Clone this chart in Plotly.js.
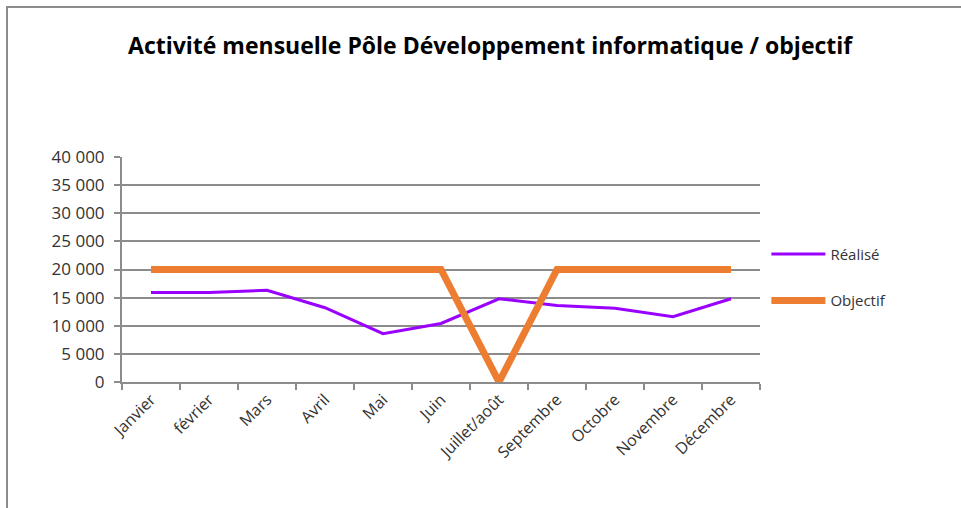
<!DOCTYPE html>
<html>
<head>
<meta charset="utf-8">
<script src="https://cdn.plot.ly/plotly-3.0.1.min.js"></script>
<style>
html,body{margin:0;padding:0;background:#fff;}
#frame{position:absolute;left:6px;top:6px;width:960px;height:508px;border-left:2px solid #8c8c8c;border-top:2px solid #8c8c8c;}
#chart{position:absolute;left:0;top:0;width:961px;height:508px;}
</style>
</head>
<body>
<div id="frame"></div>
<div id="chart"></div>
<script>
const months = ["Janvier","février","Mars","Avril","Mai","Juin","Juillet/août","Septembre","Octobre","Novembre","Décembre"];
const realise = [15900, 15900, 16300, 13200, 8600, 10400, 14800, 13600, 13100, 11600, 14800];
const objectif = [20000, 20000, 20000, 20000, 20000, 20000, 0, 20000, 20000, 20000, 20000];
const yTicks = [0, 5000, 10000, 15000, 20000, 25000, 30000, 35000, 40000];
const yTickText = ["0", "5 000", "10 000", "15 000", "20 000", "25 000", "30 000", "35 000", "40 000"];

const FONT = "'Open Sans', sans-serif";

const traces = [
  {x: months, y: realise, name: "Réalisé", type: "scatter", mode: "lines",
   line: {color: "#9900FF", width: 3}, legendgroup: "a"},
  {x: months, y: objectif, name: "Objectif", type: "scatter", mode: "lines",
   line: {color: "#ED7D31", width: 7}, legendgroup: "b"}
];

const layout = {
  width: 961, height: 508,
  margin: {l: 122, r: 201, t: 157, b: 126, pad: 0},
  paper_bgcolor: "rgba(0,0,0,0)", plot_bgcolor: "rgba(0,0,0,0)",
  font: {family: FONT, color: "#333", size: 16},
  title: {text: "<b>Activité mensuelle Pôle Développement informatique / objectif</b>",
          font: {family: FONT, size: 23, color: "#000"}, x: 0.51, xanchor: "center", y: 0.91, yanchor: "middle"},
  xaxis: {type: "category", showgrid: false, showline: true, linecolor: "#8c8c8c", linewidth: 2,
          ticks: "outside", ticklen: 6, tickcolor: "#8c8c8c", tickwidth: 2, tickson: "boundaries",
          tickangle: -45, tickfont: {size: 16, color: "#333"}, range: [-0.5, 10.5]},
  yaxis: {range: [0, 40000], tickvals: yTicks, ticktext: yTickText, showgrid: true,
          gridcolor: "#8c8c8c", gridwidth: 2, showline: true, linecolor: "#8c8c8c", linewidth: 2,
          ticks: "outside", ticklen: 6, tickcolor: "#8c8c8c", tickwidth: 2, ticklabelstandoff: 6,
          tickfont: {size: 17, color: "#333"}, zeroline: false},
  showlegend: true,
  legend: {x: 1.01, xanchor: "left", y: 0.466, yanchor: "middle", traceorder: "grouped",
           tracegroupgap: 24, itemwidth: 54, font: {size: 15, color: "#333"}, bgcolor: "rgba(0,0,0,0)"}
};

Plotly.newPlot("chart", traces, layout, {displayModeBar: false, staticPlot: true});
</script>
</body>
</html>
